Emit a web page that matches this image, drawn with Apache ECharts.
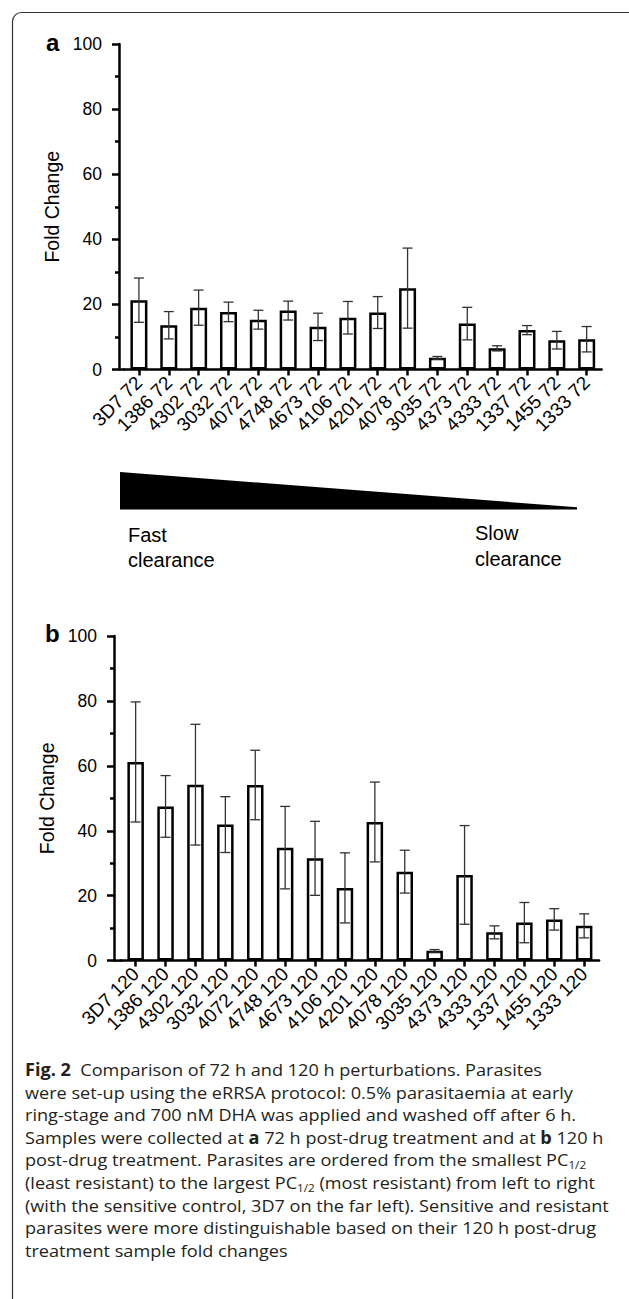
<!DOCTYPE html>
<html>
<head>
<meta charset="utf-8">
<script src="https://cdn.jsdelivr.net/npm/echarts/dist/echarts.min.js"></script>
<style>
  html, body { margin: 0; padding: 0; background: #fff; }
  #chart { position: absolute; left: 0; top: 0; width: 629px; height: 1299px; }
  #caption { position: absolute; left: 25px; top: 1059px; font-family: "Open Sans", "Noto Sans", sans-serif;
    font-size: 17px; line-height: 22.6px; color: #231f20; white-space: nowrap; transform-origin: 0 0; }
  #caption .ln { display: block; width: max-content; }
  #caption b { font-weight: 700; }
  #caption sub { font-size: 11px; line-height: 0; vertical-align: -3px; }
</style>
</head>
<body>
<div id="chart"></div>
<div id="caption">
<div class="ln"><b>Fig. 2</b>&nbsp; Comparison of 72 h and 120 h perturbations. Parasites</div>
<div class="ln">were set-up using the eRRSA protocol: 0.5% parasitaemia at early</div>
<div class="ln">ring-stage and 700 nM DHA was applied and washed off after 6 h.</div>
<div class="ln">Samples were collected at <b>a</b> 72 h post-drug treatment and at <b>b</b> 120 h</div>
<div class="ln">post-drug treatment. Parasites are ordered from the smallest PC<sub>1/2</sub></div>
<div class="ln">(least resistant) to the largest PC<sub>1/2</sub> (most resistant) from left to right</div>
<div class="ln">(with the sensitive control, 3D7 on the far left). Sensitive and resistant</div>
<div class="ln">parasites were more distinguishable based on their 120 h post-drug</div>
<div class="ln">treatment sample fold changes</div>
</div>
<script>
// ---- data ----
const strains = ['3D7', '1386', '4302', '3032', '4072', '4748', '4673', '4106', '4201', '4078', '3035', '4373', '4333', '1337', '1455', '1333'];
const categoriesA = strains.map(s => s + ' 72');
const categoriesB = strains.map(s => s + ' 120');
const meansA = [21.3, 13.6, 19.0, 17.7, 15.3, 18.1, 13.1, 15.9, 17.5, 25.0, 3.6, 14.1, 6.5, 12.1, 9.0, 9.3];
const errA   = [6.8, 4.2, 5.4, 3.0, 2.9, 2.9, 4.2, 5.0, 4.9, 12.3, 0.4, 5.0, 0.8, 1.4, 2.7, 3.9];
const meansB = [61.2, 47.5, 54.2, 41.9, 54.1, 34.8, 31.5, 22.4, 42.7, 27.4, 3.0, 26.4, 8.7, 11.7, 12.7, 10.7];
const errB   = [18.5, 9.5, 18.6, 8.6, 10.7, 12.7, 11.4, 10.8, 12.3, 6.6, 0.4, 15.2, 2.0, 6.2, 3.3, 3.7];
const yTicks = [0, 20, 40, 60, 80, 100];

// ---- layout ----
const gridA = { left: 124, top: 44, width: 477.6, height: 325.5 };
const gridB = { left: 120.7, top: 636, width: 478.4, height: 324.6 };
const axisOffsetA = 5, axisOffsetB = 6.7;
const FONT = '"Liberation Sans", Arial, Helvetica, sans-serif';
// right edges of the full-width caption lines (lines 2-8) in the reference
const captionRightEdges = [null, 589, 567, 607, 597, 589, 609, 580, null];

const chart = echarts.init(document.getElementById('chart'), null, { renderer: 'svg' });

function xAxisCfg(gi, data) {
  return {
    type: 'category', gridIndex: gi, data: data, boundaryGap: true,
    axisLine: { show: true, lineStyle: { color: '#000', width: 2.5 } },
    axisTick: { show: true, alignWithLabel: true, length: 6, lineStyle: { color: '#000', width: 2.5 } },
    axisLabel: { interval: 0, rotate: 45, fontSize: 19, color: '#000', fontFamily: FONT, margin: 10 },
    splitLine: { show: false }
  };
}
function yAxisCfg(gi, off) {
  return {
    type: 'value', gridIndex: gi, min: yTicks[0], max: yTicks[yTicks.length - 1], interval: 20, offset: off,
    name: 'Fold Change', nameLocation: 'middle', nameGap: 57,
    nameTextStyle: { fontSize: 19.5, color: '#000', fontFamily: FONT },
    axisLine: { show: true, lineStyle: { color: '#000', width: 2.5 } },
    axisTick: { show: true, length: 7, lineStyle: { color: '#000', width: 2.5 } },
    minorTick: { show: true, splitNumber: 2, length: 4, lineStyle: { color: '#000', width: 2.5 } },
    axisLabel: { fontSize: 17.5, color: '#000', fontFamily: FONT, margin: 17 },
    splitLine: { show: false }
  };
}
function barSeries(gi, means, bw) {
  return {
    type: 'bar', xAxisIndex: gi, yAxisIndex: gi, data: means, barWidth: bw, z: 2,
    itemStyle: { color: '#fff', borderColor: '#000', borderWidth: 2.5 }, silent: true, animation: false
  };
}
function errSeries(gi, means, errs, capW) {
  return {
    type: 'custom', xAxisIndex: gi, yAxisIndex: gi, z: 5, animation: false, silent: true,
    data: means.map((m, i) => [i, m - errs[i], m + errs[i]]),
    renderItem: function (params, api) {
      const x = api.value(0);
      const lo = api.coord([x, api.value(1)]);
      const hi = api.coord([x, api.value(2)]);
      const hw = capW / 2;
      const style = { stroke: '#333', lineWidth: 1.3, fill: 'none' };
      return { type: 'group', children: [
        { type: 'line', shape: { x1: lo[0], y1: lo[1], x2: hi[0], y2: hi[1] }, style: style },
        { type: 'line', shape: { x1: hi[0] - hw, y1: hi[1], x2: hi[0] + hw, y2: hi[1] }, style: style },
        { type: 'line', shape: { x1: lo[0] - hw, y1: lo[1], x2: lo[0] + hw, y2: lo[1] }, style: style }
      ]};
    }
  };
}

const zeroA = gridA.top + gridA.height, zeroB = gridB.top + gridB.height;

chart.setOption({
  animation: false,
  grid: [gridA, gridB],
  xAxis: [xAxisCfg(0, categoriesA), xAxisCfg(1, categoriesB)],
  yAxis: [yAxisCfg(0, axisOffsetA), yAxisCfg(1, axisOffsetB)],
  series: [
    barSeries(0, meansA, 17), errSeries(0, meansA, errA, 10),
    barSeries(1, meansB, 16.5), errSeries(1, meansB, errB, 10)
  ],
  graphic: [
    { type: 'rect', shape: { x: 12.5, y: 12.5, width: 700, height: 1400, r: 9 }, style: { fill: 'none', stroke: '#333', lineWidth: 1.2 }, silent: true },
    { type: 'line', shape: { x1: gridA.left - axisOffsetA, y1: zeroA, x2: gridA.left + 1, y2: zeroA }, style: { stroke: '#000', lineWidth: 2.5 }, silent: true },
    { type: 'line', shape: { x1: gridB.left - axisOffsetB, y1: zeroB, x2: gridB.left + 1, y2: zeroB }, style: { stroke: '#000', lineWidth: 2.5 }, silent: true },
    { type: 'text', x: 46, y: 42, style: { text: 'a', font: 'bold 24px ' + FONT, fill: '#000', verticalAlign: 'middle' }, silent: true },
    { type: 'text', x: 45, y: 633.5, style: { text: 'b', font: 'bold 24px ' + FONT, fill: '#000', verticalAlign: 'middle' }, silent: true },
    { type: 'polygon', shape: { points: [[120, 472], [577, 507.2], [577, 509.5], [120, 509.5]] }, style: { fill: '#000' }, silent: true },
    { type: 'text', x: 128, y: 534.7, style: { text: 'Fast', font: '20px ' + FONT, fill: '#000', verticalAlign: 'middle' }, silent: true },
    { type: 'text', x: 128, y: 560, style: { text: 'clearance', font: '20px ' + FONT, fill: '#000', verticalAlign: 'middle' }, silent: true },
    { type: 'text', x: 475, y: 533, style: { text: 'Slow', font: '20px ' + FONT, fill: '#000', verticalAlign: 'middle' }, silent: true },
    { type: 'text', x: 475, y: 559, style: { text: 'clearance', font: '20px ' + FONT, fill: '#000', verticalAlign: 'middle' }, silent: true }
  ]
});

// uniform horizontal scale of the caption so full-width lines match the reference
const capLeft = 25;
let sum = 0, n = 0;
document.querySelectorAll('#caption .ln').forEach((el, i) => {
  if (captionRightEdges[i] == null) return;
  sum += (captionRightEdges[i] - capLeft) / el.getBoundingClientRect().width; n++;
});
document.getElementById('caption').style.transform = 'scaleX(' + (sum / n).toFixed(4) + ')';
</script>
</body>
</html>
